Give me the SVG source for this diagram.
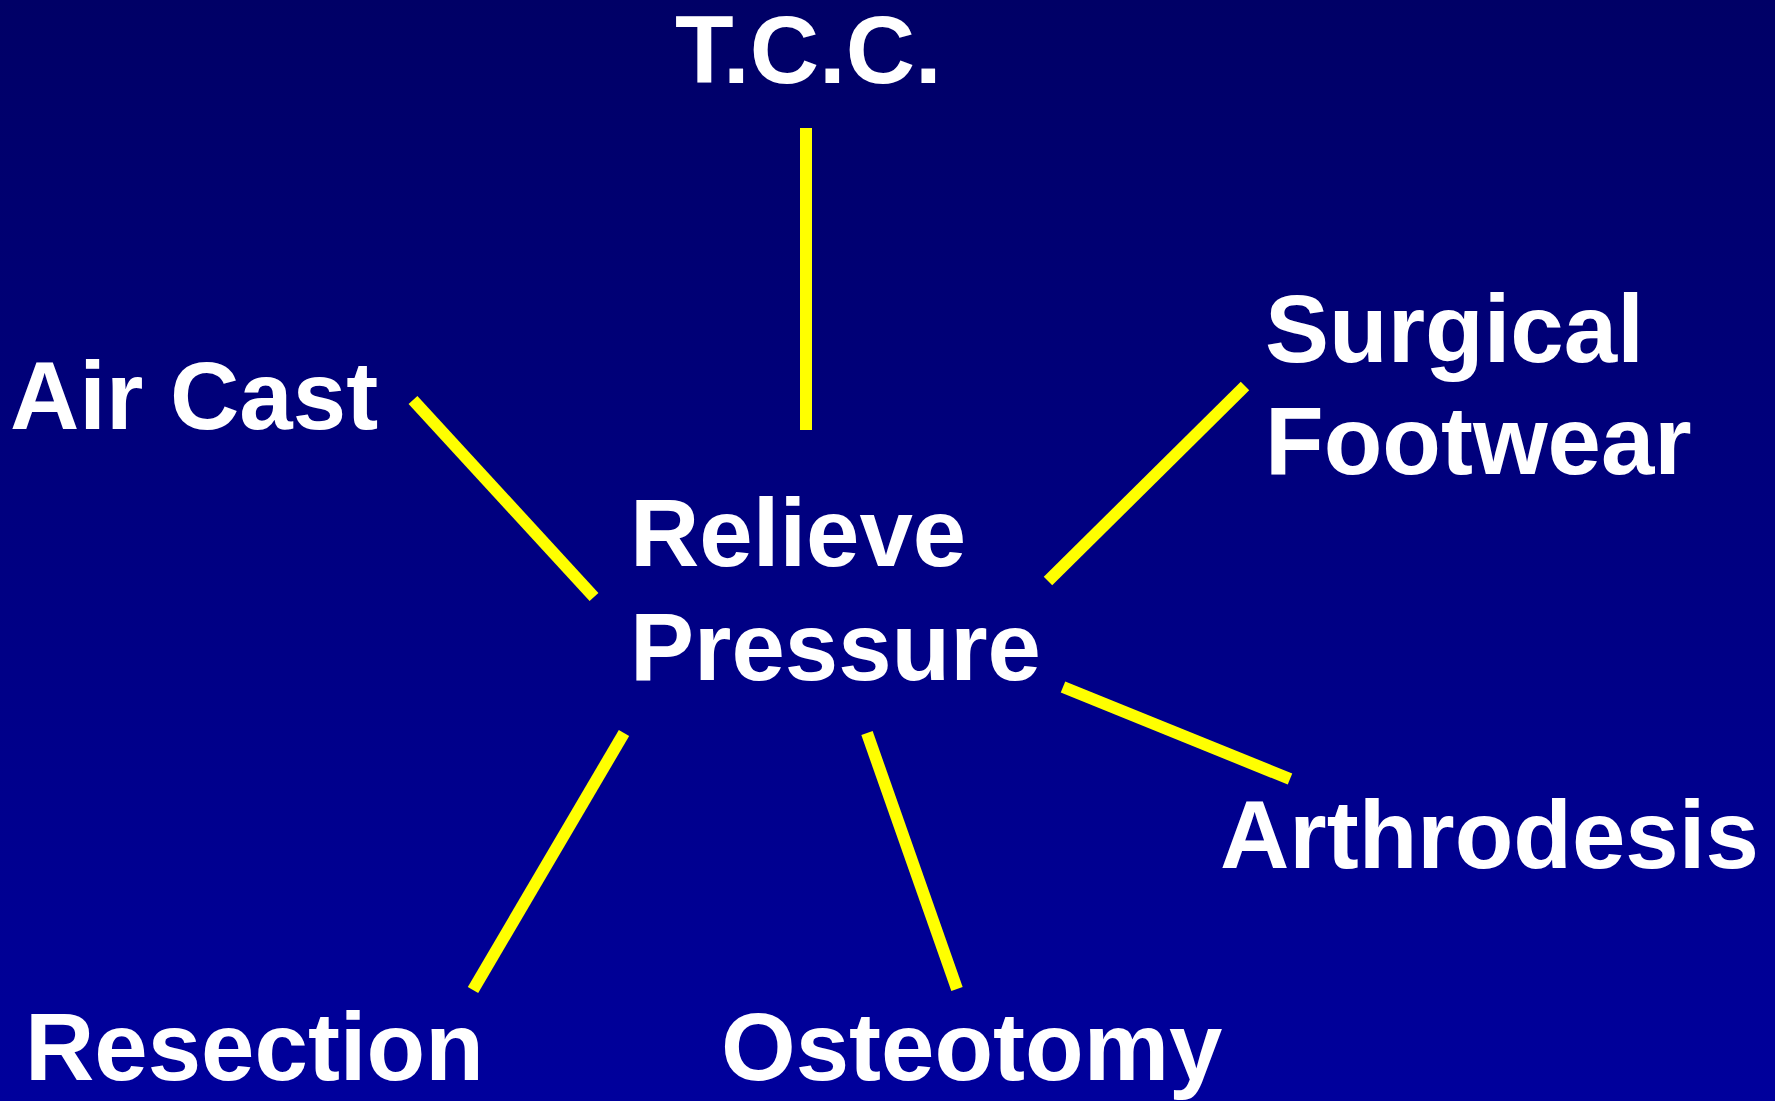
<svg xmlns="http://www.w3.org/2000/svg" width="1775" height="1101" viewBox="0 0 1775 1101">
<defs>
<linearGradient id="bg" x1="0" y1="0" x2="0" y2="1">
<stop offset="0" stop-color="#000066"/>
<stop offset="1" stop-color="#00009c"/>
</linearGradient>
</defs>
<style>
text{font-family:"Liberation Sans",Arial,sans-serif;font-weight:bold;font-size:96px;fill:#ffffff}
.c line{stroke:#ffff00;stroke-width:12}
</style>
<rect width="1775" height="1101" fill="url(#bg)"/>
<g id="connectors" class="c">
<line x1="806" y1="128" x2="806" y2="430"/>
<line x1="413" y1="400" x2="594" y2="597"/>
<line x1="1245" y1="386" x2="1048" y2="581"/>
<line x1="1063" y1="687" x2="1290" y2="779"/>
<line x1="624" y1="733" x2="473" y2="990"/>
<line x1="867" y1="733" x2="957" y2="989"/>
</g>
<g id="center"><text x="630" y="566">Relieve</text><text x="630" y="680">Pressure</text></g>
<g id="tcc"><text x="675" y="83">T.C.C.</text></g>
<g id="aircast"><text x="10" y="429">Air Cast</text></g>
<g id="footwear"><text x="1265" y="362">Surgical</text><text x="1265" y="474">Footwear</text></g>
<g id="arthrodesis"><text x="1220" y="868">Arthrodesis</text></g>
<g id="resection"><text x="25" y="1080">Resection</text></g>
<g id="osteotomy"><text x="721" y="1080">Osteotomy</text></g>
</svg>
